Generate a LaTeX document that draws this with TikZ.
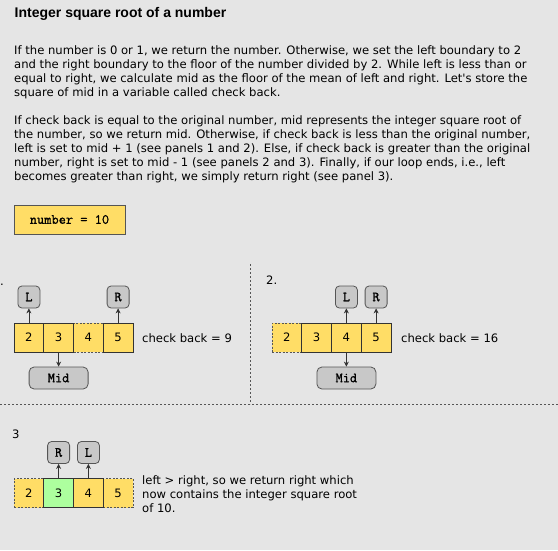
\documentclass[tikz,border=0pt]{standalone}
\usepackage{fontspec}
\setmainfont{DejaVu Sans}
\newfontfamily\plainf{DejaVu Sans}
\newfontfamily\titlefont{Liberation Sans}
\newfontfamily\monof{Latin Modern Mono}[FakeBold=0.9]
\usetikzlibrary{arrows.meta}
\definecolor{bgc}{HTML}{E5E5E5}
\definecolor{cellyel}{HTML}{FFDD66}
\definecolor{cellgrn}{HTML}{ADFF9E}
\definecolor{boxgray}{HTML}{C8C8C8}
\definecolor{edgec}{HTML}{333333}
\definecolor{dashc}{HTML}{555555}
\tikzset{
  body/.style={anchor=base west, inner sep=0pt, font=\fontsize{11.6}{14}\selectfont, text=black},
  cellbox/.style={draw=edgec, line width=0.8pt, fill=cellyel, minimum width=29.75pt, minimum height=29pt, inner sep=0pt, font=\fontsize{11.6}{14}\selectfont},
  dcell/.style={cellbox, draw=dashc, dash pattern=on 2pt off 1.5pt},
  gcell/.style={cellbox, fill=cellgrn},
  ptr/.style={draw=dashc, line width=0.8pt, fill=boxgray, rounded corners=4pt, minimum width=22pt, minimum height=22pt, inner sep=0pt, font=\fontsize{14}{14}\selectfont\monof\bfseries},
  midbox/.style={ptr, minimum width=59pt, rounded corners=5pt},
  arr/.style={draw=edgec, line width=0.8pt, -{Stealth[length=5pt,width=5pt]}},
  sep/.style={draw=dashc, line width=0.9pt, dash pattern=on 2pt off 2pt}
}
\begin{document}
\begin{tikzpicture}[x=1pt,y=-1pt]
\fill[bgc] (0,0) rectangle (558,550);
\useasboundingbox (0,0) rectangle (558,550);
% title
\node[anchor=base west, inner sep=0pt, font=\titlefont\bfseries\fontsize{14}{16}\selectfont] (title) at (14.5,17.5) {Integer square root of a number};
% paragraph 1
\node[body] (a1) at (14,54) {If the number is 0 or 1, we return the number. Otherwise, we set the left boundary to 2};
\node[body] (a2) at (14,68) {and the right boundary to the floor of the number divided by 2. While left is less than or};
\node[body] (a3) at (14,82) {equal to right, we calculate mid as the floor of the mean of left and right. Let{\plainf'}s store the};
\node[body] (a4) at (14,96) {square of mid in a variable called check back.};
% paragraph 2
\node[body] (b1) at (14,124) {If check back is equal to the original number, mid represents the integer square root of};
\node[body] (b2) at (14,138) {the number, so we return mid. Otherwise, if check back is less than the original number,};
\node[body] (b3) at (14,152) {left is set to mid + 1 (see panels 1 and 2). Else, if check back is greater than the original};
\node[body] (b4) at (14,166) {number, right is set to mid - 1 (see panels 2 and 3). Finally, if our loop ends, i.e., left};
\node[body] (b5) at (14,180) {becomes greater than right, we simply return right (see panel 3).};
% number box
\node[draw=dashc, line width=0.8pt, fill=cellyel, minimum width=111pt, minimum height=29pt, inner sep=0pt, font=\fontsize{14}{14}\selectfont\monof\bfseries] (num) at (69.5,219.5) {number = 10};
% separators
\coordinate (vtop) at (250,264);
\coordinate (vbot) at (250,404);
\coordinate (hl) at (0,404);
\coordinate (hr) at (558,404);
\draw[sep] (vtop) -- (vbot);
\draw[sep] (hl) -- (hr);
% panel 1
\node[body] (lab1) at (0,285) {.};
\node[dcell] (p1c4) at (88.4,337.5) {4};
\node[cellbox] (p1c2) at (28.9,337.5) {2};
\node[cellbox] (p1c3) at (58.6,337.5) {3};
\node[cellbox] (p1c5) at (118.1,337.5) {5};
\node[ptr] (p1L) at (28.9,297) {L};
\node[ptr] (p1R) at (118.1,297) {R};
\node[midbox] (p1M) at (58.6,378) {Mid};
\draw[arr] (p1c2.north) -- (p1L.south);
\draw[arr] (p1c5.north) -- (p1R.south);
\draw[arr] (p1c3.south) -- (p1M.north);
\node[body] (cb1) at (142,342) {check back = 9};
% panel 2
\node[body] (lab2) at (266,284) {2.};
\node[dcell] (p2c2) at (286.9,337.5) {2};
\node[cellbox] (p2c3) at (316.6,337.5) {3};
\node[cellbox] (p2c4) at (346.4,337.5) {4};
\node[cellbox] (p2c5) at (376.1,337.5) {5};
\node[ptr] (p2L) at (346.4,297) {L};
\node[ptr] (p2R) at (376.1,297) {R};
\node[midbox] (p2M) at (346.4,378) {Mid};
\draw[arr] (p2c4.north) -- (p2L.south);
\draw[arr] (p2c5.north) -- (p2R.south);
\draw[arr] (p2c4.south) -- (p2M.north);
\node[body] (cb2) at (401,342) {check back = 16};
% panel 3
\node[body] (lab3) at (12,438.5) {3};
\node[dcell] (p3c2) at (28.9,493) {2};
\node[dcell] (p3c5) at (118.1,493) {5};
\node[gcell] (p3c3) at (58.6,493) {3};
\node[cellbox] (p3c4) at (88.4,493) {4};
\node[ptr] (p3R) at (58.6,452.5) {R};
\node[ptr] (p3L) at (88.4,452.5) {L};
\draw[arr] (p3c3.north) -- (p3R.south);
\draw[arr] (p3c4.north) -- (p3L.south);
\node[body] (t1) at (142,484) {left > right, so we return right which};
\node[body] (t2) at (142,498) {now contains the integer square root};
\node[body] (t3) at (142,512) {of 10.};
\end{tikzpicture}
\end{document}
